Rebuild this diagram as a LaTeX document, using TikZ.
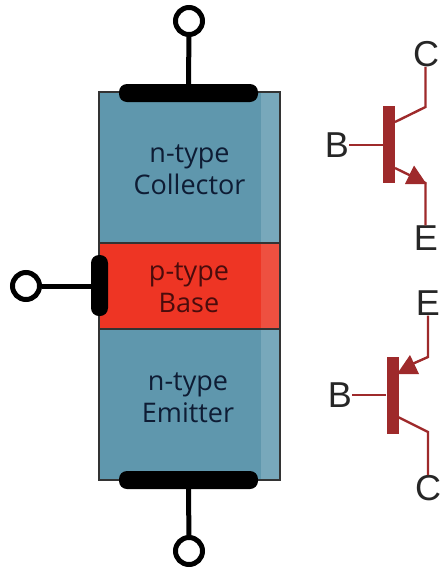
\documentclass[tikz,border=0pt]{standalone}
\usepackage{fontspec}
\setmainfont{Open Sans}
\newfontfamily\symfont{Liberation Sans}
\definecolor{ntype}{HTML}{5F97AD}
\definecolor{ntypelight}{HTML}{78A8BB}
\definecolor{ptype}{HTML}{EE3524}
\definecolor{ptypelight}{HTML}{EE5040}
\definecolor{symred}{HTML}{9E2A2B}
\definecolor{ntext}{HTML}{0E1C34}
\definecolor{ptext}{HTML}{4A0C0C}
\tikzset{
    layer/.style={draw=black!80, line width=1.8pt, minimum width=181pt, inner sep=0pt},
    tag/.style={align=center, inner sep=0pt, font=\fontsize{27}{32}\selectfont},
    contact/.style={fill=black, rounded corners=8pt, inner sep=0pt},
    terminal/.style={circle, draw=black, fill=white, line width=5pt, minimum size=27pt, inner sep=0pt},
    lead/.style={draw=black, line width=5pt},
    bar/.style={fill=symred, minimum width=12pt, minimum height=77pt, inner sep=0pt},
    wire/.style={draw=symred, line width=2.4pt},
    pin/.style={text=black!85, inner sep=0pt, font=\symfont\fontsize{36}{36}\selectfont},
}
\begin{document}
\begin{tikzpicture}[x=1pt, y=-1pt]
    \useasboundingbox (0,0) rectangle (444,571);
    % transistor layers
    \node (collector) [layer, fill=ntype, minimum height=151pt] at (189.5,167.5) {};
    \node (emitter) [layer, fill=ntype, minimum height=151pt] at (189.5,404.5) {};
    \fill [ntypelight] (261,93) rectangle (279,242);
    \fill [ntypelight] (261,330) rectangle (279,479);
    \node (base) [layer, fill=ptype, minimum height=86pt] at (189.5,286) {};
    \fill [ptypelight] (261,244) rectangle (279,328);
    \node (collectortag) [tag, text=ntext] at (189.5,170) {n-type\\Collector};
    \node (emittertag) [tag, text=ntext] at (188,398) {n-type\\Emitter};
    \node (basetag) [tag, text=ptext] at (189,288) {p-type\\Base};

    % contacts and terminals
    \node (topplate) [contact, minimum width=139pt, minimum height=18pt] at (188.5,93) {};
    \node (botplate) [contact, minimum width=139pt, minimum height=18pt] at (188.5,480) {};
    \node (baseplate) [contact, minimum width=17pt, minimum height=61pt] at (99.5,285.5) {};
    \node (topterm) [terminal] at (189,21) {};
    \node (botterm) [terminal] at (189,551) {};
    \node (baseterm) [terminal] at (26,286) {};
    \draw [lead] (topterm) -- (topplate);
    \draw [lead] (botterm) -- (botplate);
    \draw [lead] (baseterm) -- (baseterm -| baseplate.west);

    % npn symbol
    \node (npnbar) [bar] at (389,144.5) {};
    \node (npnB) [pin] at (337,145) {B};
    \node (npnC) [pin] at (426,54) {C};
    \node (npnE) [pin] at (426,238) {E};
    \coordinate (npnCin) at (395,122);
    \coordinate (npnCk) at (425.5,107);
    \coordinate (npnEin) at (395,168);
    \coordinate (npnEk) at (425.5,183);
    \draw [wire] (npnB.east) -- (npnbar.west |- npnB);
    \draw [wire] (npnCin) -- (npnCk) -- (npnCk |- npnC.south);
    \draw [wire] (npnEin) -- (npnEk) -- (npnEk |- npnE.north);
    \fill [symred] (426.5,184) -- (414,165.5) -- (405,184) -- cycle;

    % pnp symbol
    \node (pnpbar) [bar] at (392.5,395) {};
    \node (pnpB) [pin] at (340,395) {B};
    \node (pnpE) [pin] at (428,303) {E};
    \node (pnpC) [pin] at (428,488) {C};
    \coordinate (pnpEin) at (410,365);
    \coordinate (pnpEk) at (428,357);
    \coordinate (pnpCin) at (398,417);
    \coordinate (pnpCk) at (428,432);
    \draw [wire] (pnpB.east) -- (pnpbar.west |- pnpB);
    \draw [wire] (pnpE.south -| pnpEk) -- (pnpEk) -- (pnpEin);
    \draw [wire] (pnpCin) -- (pnpCk) -- (pnpCk |- pnpC.north);
    \fill [symred] (410,355) -- (397,374) -- (419,374) -- cycle;
\end{tikzpicture}
\end{document}
